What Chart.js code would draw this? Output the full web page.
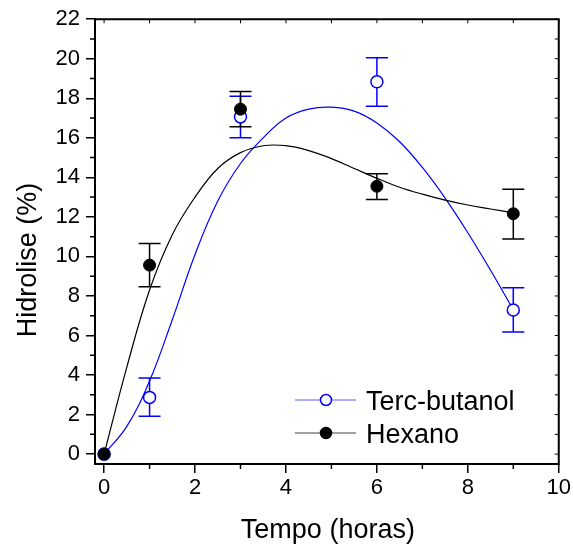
<!DOCTYPE html>
<html><head><meta charset="utf-8">
<script src="https://cdn.jsdelivr.net/npm/chart.js@4.4.0/dist/chart.umd.min.js"></script>
<style>html,body{margin:0;padding:0;background:#fff}canvas{display:block}</style>
</head><body>
<canvas id="c" width="573" height="546"></canvas>
<script>
// ---- data ----
const timeHours = [0, 1, 3, 6, 9];
const tercButanol = [0, 2.87, 17.06, 18.84, 7.29];
const tercLow  = [null, 1.91, 16.0, 17.6, 6.18];
const tercHigh = [null, 3.85, 18.1, 20.05, 8.41];
const hexano = [0, 9.56, 17.45, 13.55, 12.16];
const hexLow  = [null, 8.46, 16.56, 12.88, 10.88];
const hexHigh = [null, 10.65, 18.34, 14.18, 13.4];
// fitted curves
const fitX = [0, 0.5, 1, 1.5, 2, 2.5, 3, 3.5, 4, 4.5, 5, 5.5, 6, 6.5, 7, 7.5, 8, 8.5, 9];
const tercFit = [0, 1.4, 3.7, 6.8, 10.1, 12.8, 14.7, 16.0, 17.0, 17.45, 17.55, 17.35, 16.75, 15.8, 14.5, 12.95, 11.2, 9.3, 7.3];
const hexFit  = [0, 4.4, 8.3, 11.1, 13.0, 14.45, 15.25, 15.6, 15.6, 15.35, 14.95, 14.45, 13.95, 13.5, 13.15, 12.85, 12.6, 12.4, 12.2];
const xTicks = [0, 2, 4, 6, 8, 10];
const yTicks = [0, 2, 4, 6, 8, 10, 12, 14, 16, 18, 20, 22];
const xMinor = [1, 3, 5, 7, 9];
const yMinor = [1, 3, 5, 7, 9, 11, 13, 15, 17, 19, 21];
const seriesNames = ['Terc-butanol', 'Hexano'];
const xTitle = 'Tempo (horas)';
const yTitle = 'Hidrolise (%)';

const FONT = '"Liberation Sans", Arial, sans-serif';
const BLUE = '#0000ff';

const pts = (xs, ys) => xs.map((x, i) => ({x: x, y: ys[i]}));

const extras = {
  id: 'extras',
  beforeDatasetsDraw(chart) {
    const ctx = chart.ctx, xs = chart.scales.x, ys = chart.scales.y;
    const bars = [[tercLow, tercHigh, BLUE], [hexLow, hexHigh, '#000']];
    ctx.save();
    ctx.lineWidth = 1.5;
    bars.forEach(([lo, hi, col]) => {
      ctx.strokeStyle = col;
      timeHours.forEach((t, i) => {
        if (lo[i] == null) return;
        const px = xs.getPixelForValue(t);
        const y1 = ys.getPixelForValue(lo[i]), y2 = ys.getPixelForValue(hi[i]);
        ctx.beginPath();
        ctx.moveTo(px, y1); ctx.lineTo(px, y2);
        ctx.moveTo(px - 11, y1); ctx.lineTo(px + 11, y1);
        ctx.moveTo(px - 11, y2); ctx.lineTo(px + 11, y2);
        ctx.stroke();
      });
    });
    ctx.restore();
  },
  afterDraw(chart) {
    const ctx = chart.ctx, xs = chart.scales.x, ys = chart.scales.y;
    const a = chart.chartArea;
    ctx.save();
    ctx.strokeStyle = '#000';
    ctx.lineWidth = 2;
    ctx.beginPath();
    ctx.moveTo(a.left - 1, a.top); ctx.lineTo(a.right, a.top); ctx.lineTo(a.right, a.bottom + 1);
    ctx.stroke();
    ctx.lineWidth = 1.5;
    ctx.beginPath();
    xMinor.forEach(v => { const p = xs.getPixelForValue(v); ctx.moveTo(p, a.bottom); ctx.lineTo(p, a.bottom + 5); });
    yMinor.forEach(v => { const p = ys.getPixelForValue(v); ctx.moveTo(a.left, p); ctx.lineTo(a.left - 5, p); });
    ctx.stroke();
    ctx.lineWidth = 1;
    ctx.beginPath();
    xTicks.concat(xMinor).forEach(v => { const p = xs.getPixelForValue(v); ctx.moveTo(p, a.top); ctx.lineTo(p, a.top + 4); });
    yTicks.concat(yMinor).forEach(v => { const p = ys.getPixelForValue(v); ctx.moveTo(a.right, p); ctx.lineTo(a.right - 4, p); });
    ctx.stroke();
    ctx.fillStyle = '#000';
    ctx.font = '27px ' + FONT;
    ctx.textAlign = 'center';
    ctx.textBaseline = 'alphabetic';
    ctx.fillText(xTitle, (a.left + a.right) / 2 + 1, 538);
    ctx.save();
    ctx.translate(36, 260);
    ctx.rotate(-Math.PI / 2);
    ctx.fillText(yTitle, 0, 0);
    ctx.restore();
    const items = [
      {label: seriesNames[0], line: '#5c5cff', stroke: BLUE, fill: '#fff', y: 400},
      {label: seriesNames[1], line: '#444', stroke: '#000', fill: '#000', y: 433}
    ];
    items.forEach(it => {
      ctx.strokeStyle = it.line; ctx.lineWidth = 1.2;
      ctx.beginPath(); ctx.moveTo(295, it.y); ctx.lineTo(356, it.y); ctx.stroke();
      ctx.beginPath(); ctx.arc(326, it.y, 5.5, 0, Math.PI * 2);
      ctx.fillStyle = it.fill; ctx.fill();
      ctx.strokeStyle = it.stroke; ctx.lineWidth = 1.5; ctx.stroke();
      ctx.fillStyle = '#000';
      ctx.textAlign = 'left';
      ctx.font = '27px ' + FONT;
      ctx.fillText(it.label, 366, it.y + 9.5);
    });
    ctx.restore();
  }
};

new Chart(document.getElementById('c'), {
  type: 'scatter',
  data: {
    datasets: [
      {label: seriesNames[1], data: pts(timeHours, hexano), showLine: false,
       pointRadius: 6, pointHoverRadius: 6, pointBackgroundColor: '#000', pointBorderColor: '#000', pointBorderWidth: 1},
      {label: seriesNames[0], data: pts(timeHours, tercButanol), showLine: false,
       pointRadius: 6, pointHoverRadius: 6, pointBackgroundColor: '#fff', pointBorderColor: BLUE, pointBorderWidth: 1.5},
      {label: 'fit-h', data: pts(fitX, hexFit), showLine: true, pointRadius: 0, borderColor: '#000',
       borderWidth: 1.2, tension: 0.4, fill: false},
      {label: 'fit-t', data: pts(fitX, tercFit), showLine: true, pointRadius: 0, borderColor: BLUE,
       borderWidth: 1.2, tension: 0.4, fill: false}
    ]
  },
  options: {
    responsive: false,
    animation: false,
    events: [],
    layout: {padding: {top: 19, right: 13, left: 0, bottom: 0}},
    plugins: {legend: {display: false}, tooltip: {enabled: false}},
    scales: {
      x: {
        type: 'linear', min: -0.2, max: 10,
        afterBuildTicks: s => { s.ticks = xTicks.map(v => ({value: v})); },
        afterFit: s => { s.height = 82; },
        grid: {display: true, drawOnChartArea: false, drawTicks: true, tickLength: 9, color: '#000', lineWidth: 1.5},
        border: {display: true, color: '#000', width: 2},
        ticks: {color: '#000', font: {family: FONT, size: 22}, padding: 2, maxRotation: 0, autoSkip: false,
                callback: v => String(v)}
      },
      y: {
        type: 'linear', min: -0.5, max: 22,
        afterBuildTicks: s => { s.ticks = yTicks.map(v => ({value: v})); },
        afterFit: s => { s.width = 95; },
        grid: {display: true, drawOnChartArea: false, drawTicks: true, tickLength: 9, color: '#000', lineWidth: 1.5},
        border: {display: true, color: '#000', width: 2},
        ticks: {color: '#000', font: {family: FONT, size: 22}, padding: 6, autoSkip: false,
                callback: v => String(v)}
      }
    }
  },
  plugins: [extras]
});
</script>
</body></html>
